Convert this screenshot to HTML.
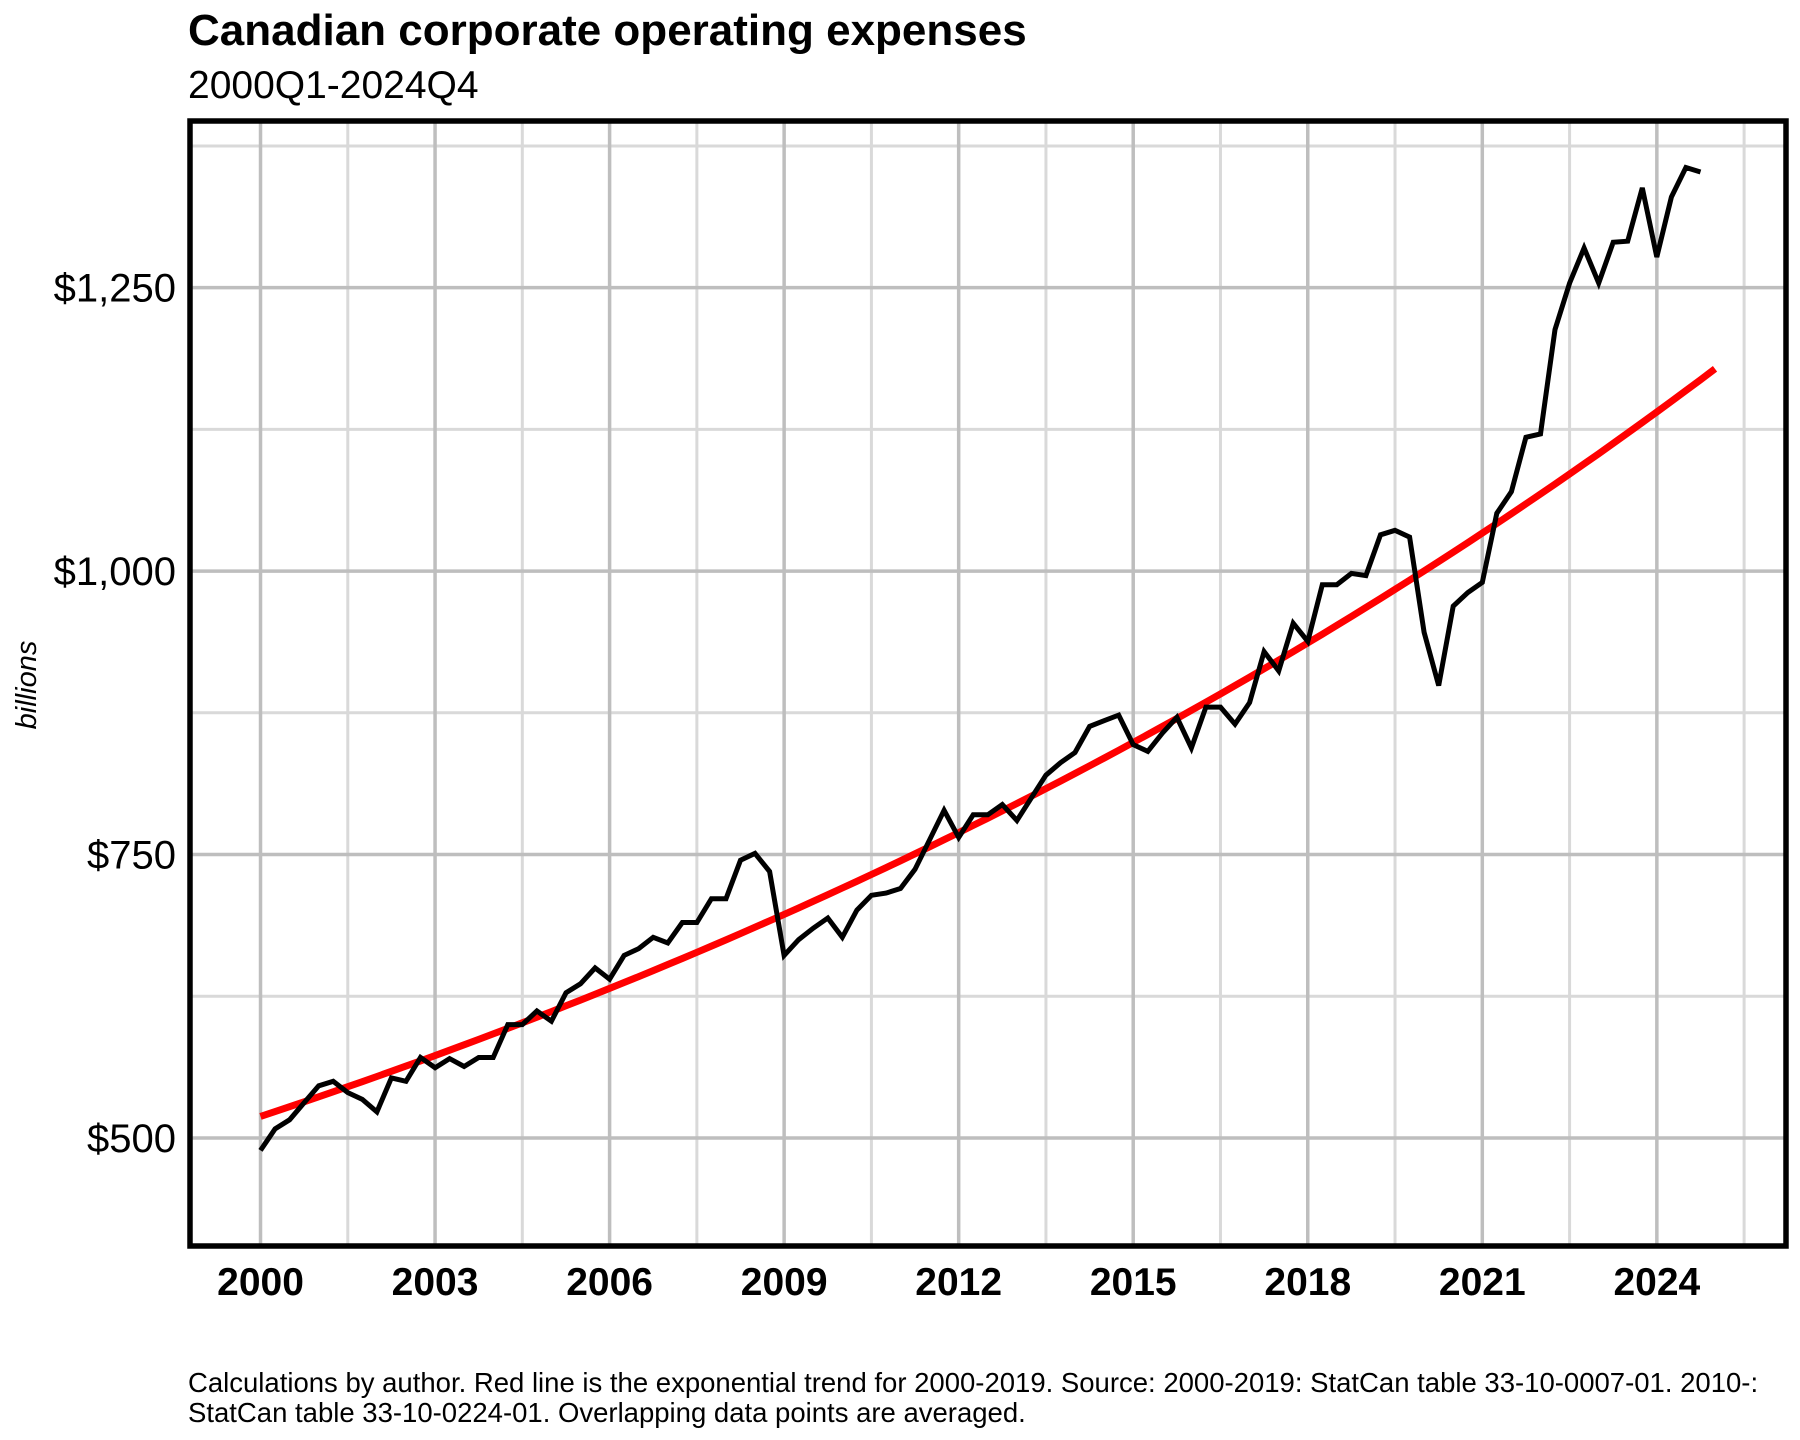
<!DOCTYPE html>
<html><head><meta charset="utf-8"><style>
html,body{margin:0;padding:0;background:#fff;}
svg{display:block;font-family:"Liberation Sans",Arial,sans-serif;}
</style></head><body>
<svg id="chart" width="1800" height="1440" viewBox="0 0 1800 1440" xmlns="http://www.w3.org/2000/svg">
<rect x="0" y="0" width="1800" height="1440" fill="#fff"/>
<text x="188" y="45" font-size="44" font-weight="bold" fill="#000">Canadian corporate operating expenses</text>
<text x="188" y="98" font-size="39" fill="#000">2000Q1-2024Q4</text>
<g id="grid"></g>
<g id="series"></g>
<rect x="190" y="121" width="1596" height="1125" fill="none" stroke="#000" stroke-width="5.5"/>
<g id="yticks"></g>
<g id="xticks"></g>
<text x="0" y="0" transform="translate(36,685) rotate(-90)" text-anchor="middle" font-size="29" font-style="italic" fill="#000">billions</text>
<text x="188" y="1392" font-size="27.5" fill="#000">Calculations by author. Red line is the exponential trend for 2000-2019. Source: 2000-2019: StatCan table 33-10-0007-01. 2010-:</text>
<text x="188" y="1422" font-size="27.5" fill="#000">StatCan table 33-10-0224-01. Overlapping data points are averaged.</text>
</svg>
<script>
const startYear = 2000;
const expenses = [
489,508,516,531, 546,550,540,534, 523,553,550,571, 562,570,563,571,
571,600,600,612, 603,628,636,650, 640,661,667,677, 672,690,690,711,
711,745,751,735, 661,675,685,694, 677,701,714,716, 720,737,763,789,
765,785,785,794, 780,800,820,831, 840,863,868,873, 847,841,857,871,
844,880,880,865, 884,929,912,954, 938,988,988,998, 996,1032,1036,1030,
946,899,969,981, 990,1051,1070,1118, 1121,1213,1254,1285, 1254,1290,1291,1338,
1277,1330,1356,1352
];
const trendStartValue = 519;
const trendRate = 0.0328;
const trendEndYear = 2025;
const yTicks = [500,750,1000,1250];
const yTickLabels = ["$500","$750","$1,000","$1,250"];
const yMinor = [625,875,1125,1375];
const xTicks = [2000,2003,2006,2009,2012,2015,2018,2021,2024];
const xMinor = [2001.5,2004.5,2007.5,2010.5,2013.5,2016.5,2019.5,2022.5,2025.5];

const NS = "http://www.w3.org/2000/svg";
const L=190,R=1786,T=121,B=1246;
const xDom=[1998.788,2026.22], yDom=[404.7,1397];
function X(v){return L+(v-xDom[0])/(xDom[1]-xDom[0])*(R-L);}
function Y(v){return B-(v-yDom[0])/(yDom[1]-yDom[0])*(B-T);}
function mk(tag,attrs,parent){const e=document.createElementNS(NS,tag);for(const k in attrs)e.setAttribute(k,attrs[k]);parent.appendChild(e);return e;}
const grid=document.getElementById('grid');
yMinor.forEach(v=>{const l=mk('line',{x1:L,x2:R,y1:Y(v),y2:Y(v),stroke:'#d9d9d9','stroke-width':3},grid);

});
xMinor.forEach(v=>{const l=mk('line',{x1:X(v),x2:X(v),y1:T,y2:B,stroke:'#d9d9d9','stroke-width':3},grid);

});
yTicks.forEach(v=>{const l=mk('line',{x1:L,x2:R,y1:Y(v),y2:Y(v),stroke:'#bebebe','stroke-width':3.5},grid);

});
xTicks.forEach(v=>{const l=mk('line',{x1:X(v),x2:X(v),y1:T,y2:B,stroke:'#bebebe','stroke-width':3.5},grid);

});
const yt=document.getElementById('yticks');
yTicks.forEach((v,i)=>{const t=mk('text',{x:176,y:Y(v)+14,'text-anchor':'end','font-size':40,fill:'#000'},yt);t.textContent=yTickLabels[i];

});
const xt=document.getElementById('xticks');
xTicks.forEach(v=>{const t=mk('text',{x:X(v),y:1295,'text-anchor':'middle','font-size':39,'font-weight':'bold',fill:'#000'},xt);t.textContent=String(v);

});
const s=document.getElementById('series');
let tp=[];for(let k=0;k<=100;k++){const yr=startYear+(trendEndYear-startYear)*k/100;tp.push(X(yr).toFixed(1)+','+Y(trendStartValue*Math.exp(trendRate*(yr-startYear))).toFixed(1));}
const tl=mk('polyline',{points:tp.join(' '),fill:'none',stroke:'#ff0000','stroke-width':7},s);


const pts=expenses.map((v,i)=>X(startYear+i/4).toFixed(1)+','+Y(v).toFixed(1));
const dl=mk('polyline',{points:pts.join(' '),fill:'none',stroke:'#000','stroke-width':5,'stroke-linejoin':'miter'},s);


</script>
</body></html>
